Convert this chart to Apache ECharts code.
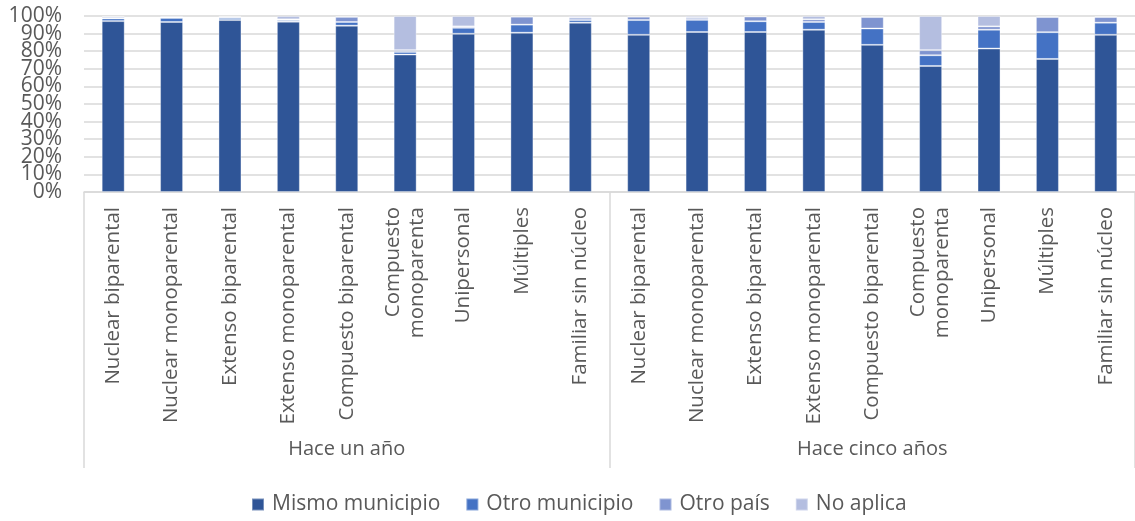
<!DOCTYPE html>
<html>
<head>
    <meta charset="utf-8" />
    <title>Lugar de residencia</title>
    <style type="text/css">
        html, body {
            margin: 0;
            padding: 0;
            background: #fff;
        }

        #chart {
            width: 1135px;
            height: 521px;
        }
    </style>
    <script src="https://cdn.jsdelivr.net/npm/echarts@6/dist/echarts.min.js"></script>
</head>
<body>
    <div id="chart"></div>
    <script type="text/javascript">
        // tipos de hogar (se repiten en los dos periodos)
        var tipos = ['Nuclear biparental', 'Nuclear monoparental', 'Extenso biparental', 'Extenso monoparental',
            'Compuesto biparental', 'Compuesto\nmonoparenta', 'Unipersonal', 'Múltiples', 'Familiar sin núcleo'];
        var categorias = tipos.concat(tipos);
        var periodos = ['Hace un año', 'Hace cinco años'];
        var yTicks = [0, 10, 20, 30, 40, 50, 60, 70, 80, 90, 100];

        // porcentajes
        var mismoMunicipio = [97.1, 96.6, 97.7, 96.8, 94.5, 78.1, 89.9, 90.5, 96.2,
            89.3, 90.9, 90.9, 92.2, 83.6, 71.6, 81.5, 75.6, 89.3];
        var otroMunicipio = [1.5, 2.3, 1.2, 0.9, 2.1, 1.5, 3.4, 4.6, 1.5,
            8.4, 6.9, 6.1, 4.4, 9.3, 6.1, 10.7, 15.2, 6.9];
        var otroPais = [0.8, 0.4, 0.7, 0.4, 2.9, 1.0, 0.8, 4.5, 1.3,
            1.9, 1.1, 2.7, 1.5, 6.5, 2.9, 1.9, 8.6, 3.2];
        var noAplica = [0.6, 0.7, 0.4, 1.9, 0.5, 19.4, 5.9, 0.4, 1.0,
            0.4, 1.1, 0.3, 1.9, 0.6, 19.4, 5.9, 0.6, 0.6];

        var nombres = ['Mismo municipio', 'Otro municipio', 'Otro país', 'No aplica'];
        var colores = ['#2F5597', '#4472C4', '#7F94D0', '#B4BEE0'];
        var valores = [mismoMunicipio, otroMunicipio, otroPais, noAplica];

        var fuente = '"Open Sans", "Noto Sans", sans-serif';
        var gris = '#595959';
        var yMin = yTicks[0];
        var yMax = yTicks[yTicks.length - 1];

        var chart = echarts.init(document.getElementById('chart'));

        var series = [];
        for (var i = 0; i < nombres.length; i++) {
            series.push({
                name: nombres[i],
                type: 'bar',
                stack: 'total',
                barWidth: 23,
                data: valores[i],
                itemStyle: {
                    color: colores[i],
                    borderColor: 'rgba(255,255,255,0.35)',
                    borderWidth: 1
                }
            });
        }

        // dos ejes Y superpuestos: uno con las etiquetas interiores y otro con 0% y 100%,
        // para que ninguna etiqueta quede oculta por solaparse
        function ejeY(extremos) {
            return {
                type: 'value',
                position: 'left',
                min: yMin,
                max: yMax,
                interval: 10,
                axisLine: { show: false },
                axisTick: { show: false },
                splitLine: { show: !extremos, lineStyle: { color: '#d9d9d9', width: 1.5 } },
                axisLabel: {
                    showMinLabel: extremos,
                    showMaxLabel: extremos,
                    formatter: function (v) {
                        var esExtremo = (v === yMin || v === yMax);
                        return esExtremo === extremos ? v + '%' : '';
                    },
                    margin: 22,
                    fontSize: 21,
                    color: gris,
                    fontFamily: fuente
                }
            };
        }

        var option = {
            animation: false,
            textStyle: { fontFamily: fuente },
            grid: {
                left: 84,
                right: -4,
                top: 16,
                bottom: 329,
                containLabel: false
            },
            legend: {
                left: 251,
                top: 494,
                padding: 0,
                itemWidth: 12,
                itemHeight: 12,
                itemGap: 25,
                icon: 'rect',
                data: nombres,
                textStyle: {
                    fontSize: 21,
                    color: gris,
                    fontFamily: fuente,
                    padding: [0, 0, 0, 3]
                }
            },
            xAxis: [
                {
                    type: 'category',
                    data: categorias,
                    axisLine: { lineStyle: { color: '#d9d9d9', width: 1.5 } },
                    axisTick: { show: false },
                    axisLabel: {
                        interval: 0,
                        rotate: 90,
                        margin: 15,
                        fontSize: 20.5,
                        lineHeight: 24,
                        color: gris,
                        fontFamily: fuente
                    }
                },
                {
                    type: 'category',
                    position: 'bottom',
                    data: periodos,
                    axisLine: { show: false },
                    axisTick: {
                        show: true,
                        length: 276,
                        lineStyle: { color: '#d9d9d9', width: 1.5 }
                    },
                    axisLabel: {
                        margin: 247,
                        fontSize: 20,
                        color: gris,
                        fontFamily: fuente
                    }
                }
            ],
            yAxis: [ejeY(false), ejeY(true)],
            series: series
        };

        chart.setOption(option);
    </script>
</body>
</html>
